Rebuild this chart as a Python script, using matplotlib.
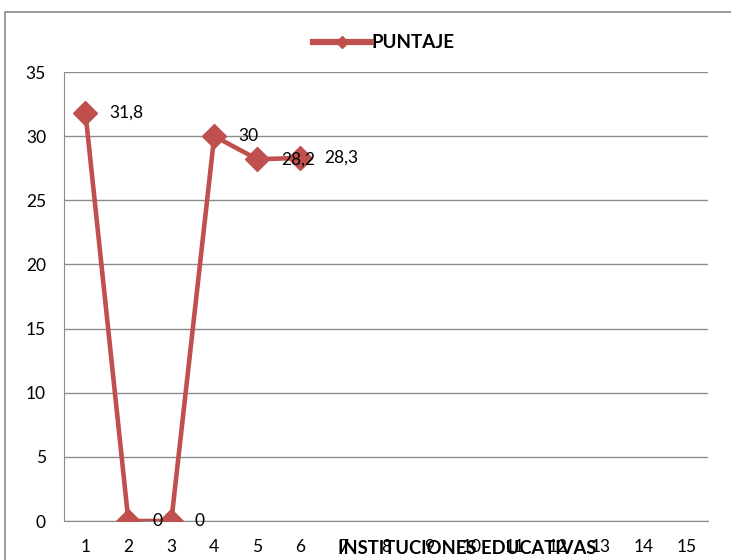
import matplotlib
matplotlib.use("Agg")
import matplotlib.pyplot as plt
from matplotlib.patches import Rectangle

categories = [str(i) for i in range(1, 16)]
x_vals = [1, 2, 3, 4, 5, 6]
puntaje = [31.8, 0, 0, 30, 28.2, 28.3]
labels = ["31,8", "0", "0", "30", "28,2", "28,3"]
yticks = [0, 5, 10, 15, 20, 25, 30, 35]

color = "#C0504D"
font = "Lato"

fig = plt.figure(figsize=(7.31, 5.60), dpi=100)
fig.patches.append(Rectangle((5/731, -0.1), 1.0, 0.9786 + 0.1, transform=fig.transFigure,
                             fill=False, edgecolor="#8c8c8c", linewidth=1.2))
ax = fig.add_axes([64/731, 39/560, 644/731, 449/560])

ax.plot(x_vals, puntaje, color=color, linewidth=3.3, marker="D", markersize=12.5,
        label="PUNTAJE", zorder=3)
for x, y, t in zip(x_vals, puntaje, labels):
    ax.annotate(t, (x, y), xytext=(17, 0), textcoords="offset points",
                va="center", ha="left", fontsize=12.5, family=font)

ax.set_xlim(0.5, 15.5)
ax.set_ylim(0, 35)
ax.set_yticks(yticks)
ax.set_yticklabels([str(v) for v in yticks], family=font, fontsize=12.5)
ax.set_xticks(range(1, 16))
ax.set_xticklabels(categories, family=font, fontsize=12.5)
ax.tick_params(length=0, pad=13, axis="y")
ax.tick_params(length=0, pad=13, axis="x")
ax.grid(axis="y", color="#8c8c8c", linewidth=1)
ax.set_axisbelow(True)
for s in ["top", "right"]:
    ax.spines[s].set_visible(False)
for s in ["left", "bottom"]:
    ax.spines[s].set_color("#8c8c8c")

fig.text(467/731, 1 - 549/560, "INSTITUCIONES EDUCATIVAS", ha="center", va="center",
         fontsize=13.2, fontweight="bold", family=font)

leg = fig.legend(loc="center", bbox_to_anchor=(384/731, 1 - 43/560), frameon=False,
                 prop={"family": font, "weight": "bold", "size": 13.5},
                 handlelength=3.0, handletextpad=0.1, markerscale=0.5)
for h in leg.get_lines():
    h.set_linewidth(4.5)

fig.savefig("out.png", dpi=100)
